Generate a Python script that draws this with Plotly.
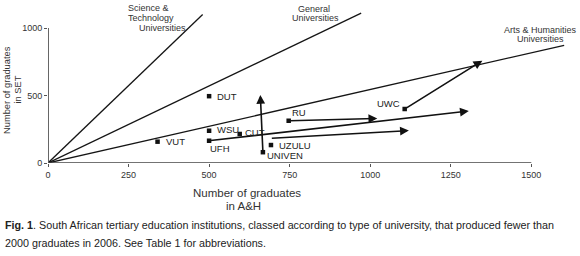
import plotly.graph_objects as go

# ---- data ----
institutions = ["VUT", "DUT", "WSU", "CUT", "UFH", "UZULU", "UNIVEN", "RU", "UWC"]
grads_ah = [340, 500, 500, 595, 500, 692, 667, 747, 1107]
grads_set = [158, 495, 239, 215, 165, 133, 80, 313, 400]

# trend arrows: start (A&H, SET) -> end (A&H, SET)
arrow_start_ah = [500, 690, 747, 1107, 667]
arrow_start_set = [165, 183, 313, 400, 80]
arrow_end_ah = [1306, 1120, 1022, 1348, 659]
arrow_end_set = [385, 240, 330, 758, 504]

# university-type reference lines from the origin
type_names = ["Science & Technology", "General", "Arts & Humanities"]
type_end_ah = [480, 972, 1602]
type_end_set = [1100, 1110, 872]

x_ticks = [0, 250, 500, 750, 1000, 1250, 1500]
y_ticks = [0, 500, 1000]

# ---- layout geometry ----
W, H = 580, 256
L, R, T, B = 48, 10, 8, 93
PW, PH = W - L - R, H - T - B


def px(x):
    return (x - L) / PW


def py(y):
    return (H - B - y) / PH


fig = go.Figure()

for name, xe, ye in zip(type_names, type_end_ah, type_end_set):
    fig.add_trace(go.Scatter(x=[0, xe], y=[0, ye], mode="lines",
                             line=dict(color="#151515", width=1.3),
                             name=name, showlegend=False, hoverinfo="skip"))

fig.add_trace(go.Scatter(x=grads_ah, y=grads_set, mode="markers",
                         marker=dict(symbol="square", size=4.5, color="#111"),
                         showlegend=False, cliponaxis=False))

annotations = []
# arrows
for xs, ys, xe, ye in zip(arrow_start_ah, arrow_start_set, arrow_end_ah, arrow_end_set):
    annotations.append(dict(x=xe, y=ye, ax=xs, ay=ys, xref="x", yref="y",
                            axref="x", ayref="y", showarrow=True, text="",
                            arrowhead=2, arrowsize=1.1, arrowwidth=1.6,
                            arrowcolor="#111", standoff=0, startstandoff=0))

# point labels: (xshift, yshift, anchor)
label_offsets = {
    "VUT": (6, 0, "left"),
    "DUT": (6, 0, "left"),
    "WSU": (6, 1, "left"),
    "CUT": (3, 1, "left"),
    "UFH": (-1, -8, "left"),
    "UZULU": (6, 0, "left"),
    "UNIVEN": (2, -3, "left"),
    "RU": (1, 8, "left"),
    "UWC": (-3, 6, "right"),
}
lab_font = dict(family="Liberation Sans, Arial, sans-serif", size=9.5, color="#222")
for name, xv, yv in zip(institutions, grads_ah, grads_set):
    dx, dy, anc = label_offsets[name]
    annotations.append(dict(x=xv, y=yv, xref="x", yref="y", text=name,
                            showarrow=False, xanchor=anc, yanchor="middle",
                            xshift=dx, yshift=dy, font=lab_font))

small_font = dict(family="Liberation Sans, Arial, sans-serif", size=9, color="#333")


def txt(text, x, y, anchor="center", font=small_font, angle=0):
    annotations.append(dict(x=px(x), y=py(y), xref="paper", yref="paper",
                            text=text, showarrow=False, xanchor=anchor,
                            yanchor="middle", font=font, textangle=angle))


# type line labels
txt("Science &amp;", 125.5, 8.3, "left")
txt("Technology", 125.5, 17.7, "left")
txt("Universities", 136.5, 27.5, "left")
txt("General", 313.5, 8.7)
txt("Universities", 315.5, 17.5)
txt("Arts &amp; Humanities", 540, 29.7)
txt("Universities", 540, 38.5)

# axis titles
ytf = dict(family="Liberation Sans, Arial, sans-serif", size=9.3, color="#333")
txt("Number of graduates", 7, 90, font=ytf, angle=-90)
txt("in SET", 17.5, 90, font=ytf, angle=-90)
xtf = dict(family="Liberation Sans, Arial, sans-serif", size=11.5, color="#333")
txt("Number of graduates", 246.5, 193.3, font=xtf)
txt("in A&amp;H", 243, 205.7, font=xtf)

# caption
capf = dict(family="Liberation Sans, Arial, sans-serif", size=10.75, color="#222")
txt("<b>Fig. 1</b>. South African tertiary education institutions, classed according to type of university, that produced fewer than",
    3, 225, "left", font=capf)
txt("2000 graduates in 2006. See Table 1 for abbreviations.", 3, 243, "left", font=capf)

# axis lines
shapes = [
    dict(type="line", xref="x", yref="y", x0=0, y0=0, x1=x_ticks[-1], y1=0,
         line=dict(color="#444", width=1.4), layer="above"),
    dict(type="line", xref="x", yref="y", x0=0, y0=0, x1=0, y1=y_ticks[-1],
         line=dict(color="#555", width=1.8), layer="above"),
]

x_max = PW / 0.3222
y_max = PH / 0.135

fig.update_layout(
    width=W, height=H, margin=dict(l=L, r=R, t=T, b=B),
    paper_bgcolor="white", plot_bgcolor="white",
    annotations=annotations, shapes=shapes, showlegend=False,
    xaxis=dict(range=[0, x_max], tickvals=x_ticks, showgrid=False, zeroline=False,
               showline=False, ticks="outside", ticklen=3, tickcolor="#555",
               tickfont=small_font, fixedrange=True),
    yaxis=dict(range=[0, y_max], tickvals=y_ticks, showgrid=False, zeroline=False,
               showline=False, ticks="outside", ticklen=3, tickcolor="#555",
               tickfont=small_font, fixedrange=True),
)

fig.write_html("out.html", config={"displayModeBar": False},
               post_script="document.body.style.margin='0';document.body.style.overflow='hidden';")
